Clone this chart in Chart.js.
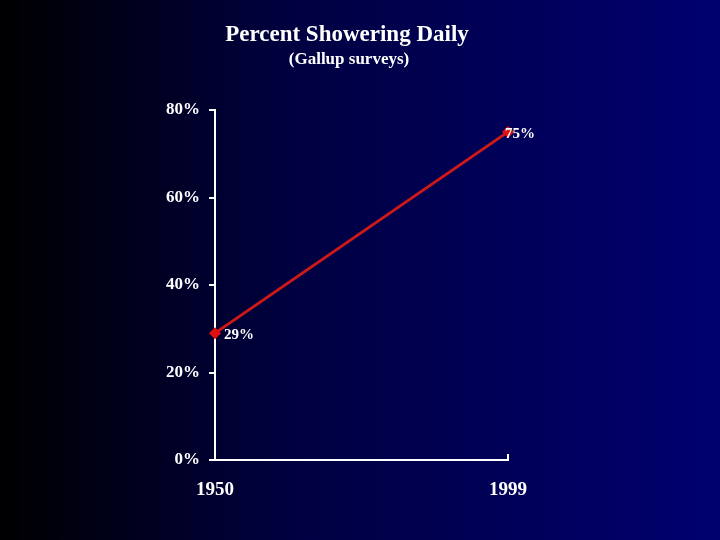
<!DOCTYPE html>
<html>
<head>
<meta charset="utf-8">
<script src="https://cdn.jsdelivr.net/npm/chart.js@4/dist/chart.umd.min.js"></script>
<style>
  html, body { margin: 0; padding: 0; }
  body { width: 720px; height: 540px; background: linear-gradient(to right, #000000 0%, #000040 40%, #000070 100%); }
  #wrap { width: 720px; height: 540px; }
</style>
</head>
<body>
<div id="wrap"><canvas id="myChart" width="720" height="540"></canvas></div>
<script>
let years = ['1950', '1999'];
let percent_daily = [29, 75];
let y_ticks = [0, 20, 40, 60, 80];

const serif = '"Liberation Serif", "Times New Roman", serif';

// title, subtitle, value labels and the little end tick on the x axis
const extras = {
    id: 'extras',
    afterDraw(chart) {
        const ctx = chart.ctx;
        const x = chart.scales.x, y = chart.scales.y;
        ctx.save();
        ctx.fillStyle = '#ffffff';
        ctx.textAlign = 'center';
        ctx.textBaseline = 'middle';
        ctx.font = 'bold 23px ' + serif;
        ctx.fillText('Percent Showering Daily', 347, 35);
        ctx.font = 'bold 17px ' + serif;
        ctx.fillText('(Gallup surveys)', 349, 60);

        // value labels
        ctx.font = 'bold 15px ' + serif;
        ctx.textAlign = 'left';
        const meta = chart.getDatasetMeta(0);
        meta.data.forEach((pt, i) => {
            const dx = i === 0 ? 9 : -3;
            ctx.fillText(percent_daily[i] + '%', pt.x + dx, pt.y + 2);
        });

        // upward tick at the end of the x axis
        ctx.strokeStyle = '#ffffff';
        ctx.lineWidth = 2;
        const xe = x.getPixelForValue(years.length - 1);
        ctx.beginPath();
        ctx.moveTo(xe, y.bottom);
        ctx.lineTo(xe, y.bottom - 6);
        ctx.stroke();
        ctx.restore();
    }
};

function myChart() {
    let ctx = document.getElementById('myChart').getContext('2d');
    new Chart(ctx, {
        type: 'line',
        data: {
            labels: years,
            datasets: [{
                label: 'Percent Showering Daily',
                data: percent_daily,
                borderColor: '#d01818',
                backgroundColor: '#e01010',
                borderWidth: 3,
                pointStyle: 'rectRot',
                pointRadius: 6,
                pointBorderWidth: 0,
                tension: 0
            }]
        },
        options: {
            responsive: false,
            animation: false,
            layout: {
                padding: { top: 110, right: 212, bottom: 0, left: 0 }
            },
            plugins: {
                legend: { display: false },
                tooltip: { enabled: false }
            },
            scales: {
                x: {
                    offset: false,
                    grid: { drawOnChartArea: false, drawTicks: false },
                    border: { color: '#ffffff', width: 2 },
                    ticks: {
                        color: '#ffffff',
                        padding: 19,
                        maxRotation: 0,
                        font: { family: serif, size: 19, weight: 'bold' }
                    },
                    afterFit(scale) { scale.height = 80; }
                },
                y: {
                    min: 0,
                    max: 80,
                    afterBuildTicks(scale) { scale.ticks = y_ticks.map(v => ({ value: v })); },
                    grid: { drawOnChartArea: false, drawTicks: true, tickLength: 6, color: '#ffffff', lineWidth: 2 },
                    border: { color: '#ffffff', width: 2 },
                    ticks: {
                        color: '#ffffff',
                        padding: 9,
                        callback: v => v + '%',
                        font: { family: serif, size: 17, weight: 'bold' }
                    },
                    afterFit(scale) { scale.width = 215; }
                }
            }
        },
        plugins: [extras]
    });
}
myChart()
</script>
</body>
</html>
